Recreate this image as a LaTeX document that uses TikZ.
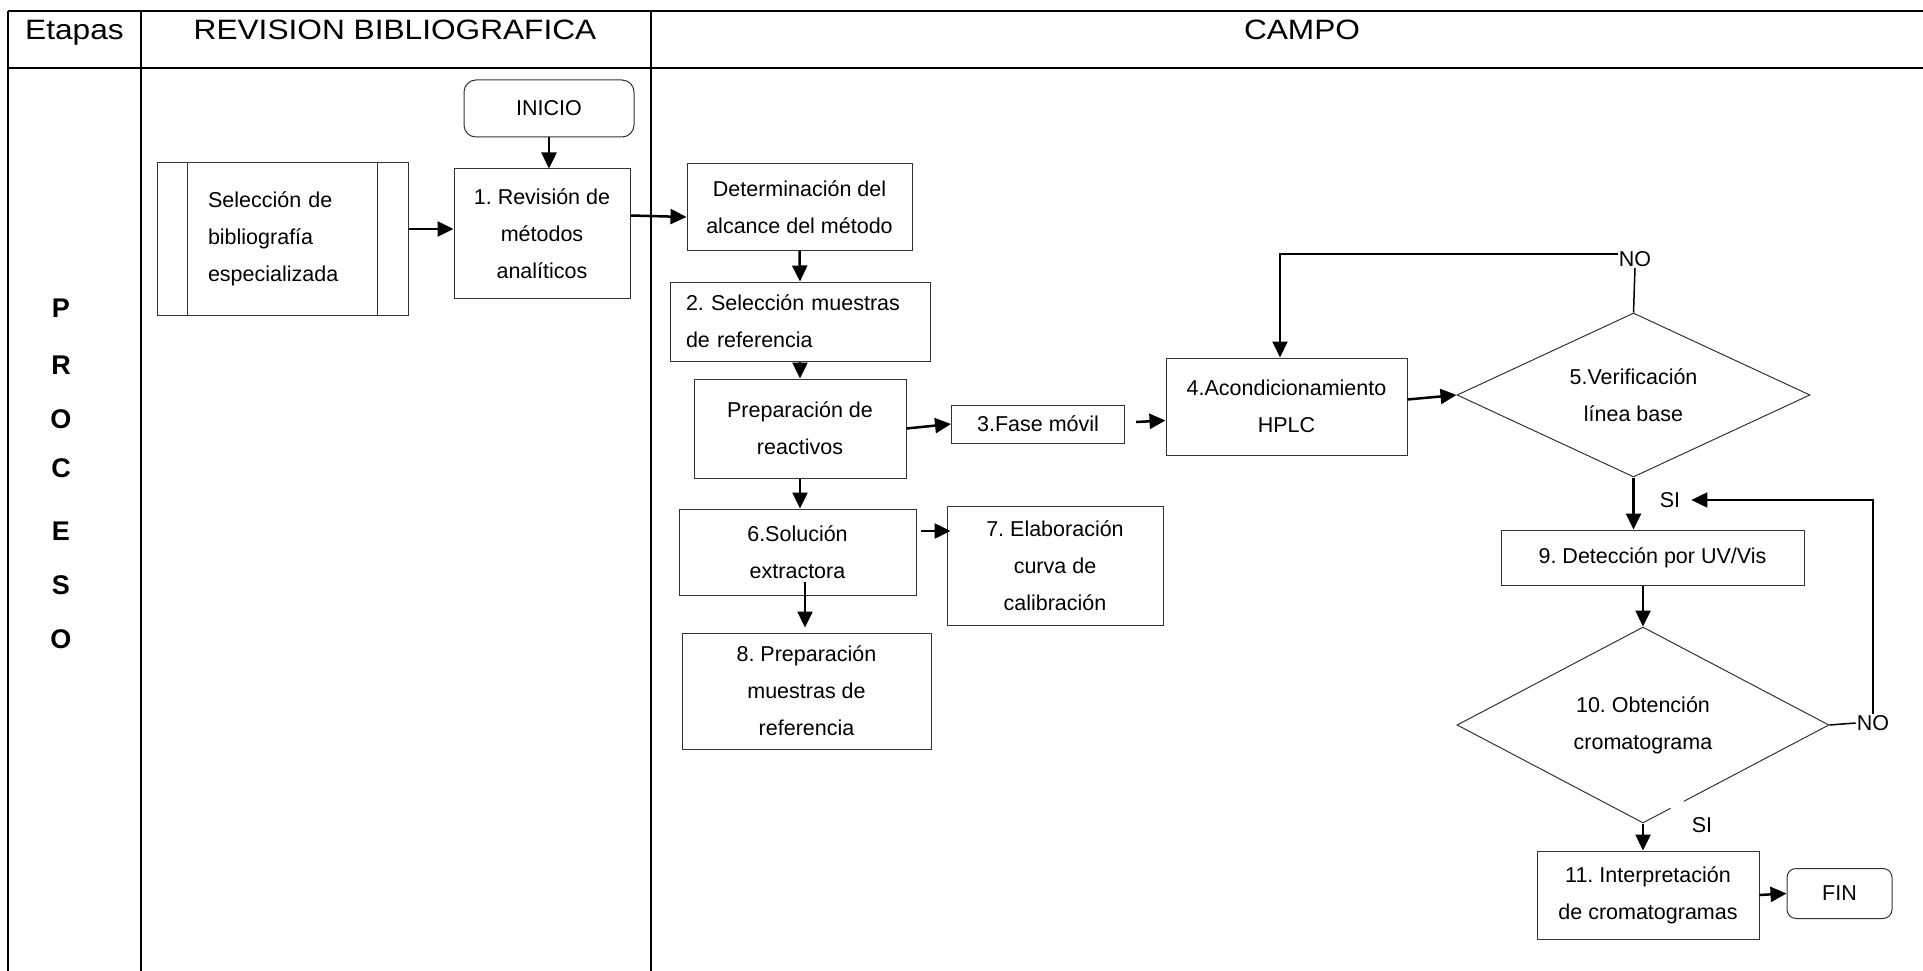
\documentclass[tikz,border=0pt]{standalone}
\usepackage{fontspec}
\setmainfont{Liberation Sans}
\newfontfamily\stretchfam{Liberation Sans}[FakeStretch=1.13]
\usetikzlibrary{shapes.geometric,arrows.meta,calc}
\frenchspacing
\newcommand{\flowfont}{\fontsize{21.5pt}{37pt}\selectfont}
\newcommand{\etapafont}{\stretchfam\fontsize{28pt}{32pt}\selectfont}
\newcommand{\procfont}{\fontsize{27pt}{30pt}\selectfont\bfseries}

\begin{document}
\begin{tikzpicture}[x=1pt,y=1pt,
    grid/.style={line width=2.5pt},
    box/.style={draw=black!80,line width=1pt,align=center,font=\flowfont},
    dec/.style={diamond,draw=black!80,line width=1pt,align=center,font=\flowfont,inner sep=0pt},
    lbl/.style={font=\flowfont,inner sep=1pt},
    arr/.style={line width=2.5pt,-{Triangle[length=16pt,width=15pt]}}]
    \useasboundingbox (0,0) rectangle (1923,-971);
    % table
    \draw[grid] (8,-11) -- (1923,-11);
    \draw[grid] (8,-68) -- (1923,-68);
    \draw[grid] (8,-11) -- (8,-971);
    \draw[grid] (141,-11) -- (141,-971);
    \draw[grid] (651,-11) -- (651,-971);
    \node[font=\etapafont,anchor=base] (etapas) at (74.5,-39.5) {Etapas};
    \node[font=\etapafont,anchor=base] (revision) at (395,-39.5) {REVISION BIBLIOGRAFICA};
    \node[font=\etapafont,anchor=base] (campo) at (1302,-39.5) {CAMPO};
    \node[font=\procfont] (p1) at (61,-308) {P};
    \node[font=\procfont] (p2) at (61,-365) {R};
    \node[font=\procfont] (p3) at (61,-419) {O};
    \node[font=\procfont] (p4) at (61,-468) {C};
    \node[font=\procfont] (p5) at (61,-531) {E};
    \node[font=\procfont] (p6) at (61,-585) {S};
    \node[font=\procfont] (p7) at (61,-639) {O};
    % revision bibliografica
    \node[box,minimum width=251pt,minimum height=152pt,text width=149pt,inner xsep=51pt,align=left] (biblio) at (282.5,-239) {Selección de\\bibliografía\\especializada};
    \draw[draw=black!80,line width=1pt] ([xshift=31pt]biblio.north west) -- ([xshift=31pt]biblio.south west);
    \draw[draw=black!80,line width=1pt] ([xshift=-31pt]biblio.north east) -- ([xshift=-31pt]biblio.south east);
    \node[box,rounded corners=12pt,minimum width=170pt,minimum height=57pt] (ini) at (549,-108.5) {INICIO};
    \node[box,minimum width=176pt,minimum height=129pt] (b1) at (542,-233.5) {1. Revisión de\\métodos\\analíticos};
    % campo
    \node[box,minimum width=225pt,minimum height=86pt] (alc) at (799.5,-207) {Determinación del\\alcance del método};
    \node[box,minimum width=260pt,minimum height=79pt,text width=228pt,inner xsep=16pt,align=left] (b2) at (800,-321.5) {2. Selección muestras\\de referencia};
    \node[box,minimum width=212pt,minimum height=99pt] (reac) at (800,-428.5) {Preparación de\\reactivos};
    \node[box,minimum width=173pt,minimum height=38pt] (b3) at (1038,-424) {3.Fase móvil};
    \node[box,minimum width=241pt,minimum height=97pt] (b4) at (1286.5,-406.5) {4.Acondicionamiento\\HPLC};
    \node[dec,aspect=2.15,minimum width=353pt,minimum height=164pt] (b5) at (1633.5,-395) {5.Verificación\\línea base};
    \node[box,minimum width=303pt,minimum height=55pt] (b9) at (1652.5,-557.5) {9. Detección por UV/Vis};
    \node[dec,aspect=1.9,minimum width=372pt,minimum height=196pt] (b10) at (1643,-725) {10. Obtención\\cromatograma};
    \node[box,minimum width=222pt,minimum height=88pt] (b11) at (1648,-895) {11. Interpretación\\de cromatogramas};
    \node[box,rounded corners=9pt,minimum width=105pt,minimum height=50pt] (fin) at (1839.5,-893.5) {FIN};
    \node[box,minimum width=237pt,minimum height=86pt] (b6) at (797.5,-552) {6.Solución\\extractora};
    \node[box,minimum width=216pt,minimum height=119pt] (b7) at (1055,-565.5) {7. Elaboración\\curva de\\calibración};
    \node[box,minimum width=249pt,minimum height=116pt] (b8) at (806.5,-691) {8. Preparación\\muestras de\\referencia};
    \node[lbl] (no1) at (1635,-259) {NO};
    \node[lbl] (si1) at (1670,-500) {SI};
    \node[lbl] (no2) at (1873,-723) {NO};
    \node[lbl] (si2) at (1702,-825) {SI};
    \coordinate (c1) at (1280,-254);
    \coordinate (c2) at (805,-582);
    % arrows
    \draw[arr] (ini.south) -- (ini.south |- b1.north);
    \draw[arr] ([yshift=10pt]biblio.east) -- ([yshift=10pt]biblio.east -| b1.west);
    \draw[arr] ([yshift=18pt]b1.east) -- ([yshift=-10pt]alc.west);
    \draw[arr] (alc.south) -- (b2.north);
    \draw[arr] (b2.south) -- (reac.north);
    \draw[arr] (reac.east) -- (b3.west);
    \draw[arr] ([xshift=11pt,yshift=2pt]b3.east) -- ([yshift=-14pt]b4.west);
    \draw[arr] ([yshift=7pt]b4.east) -- (b5.west);
    \draw[line width=1.5pt] (b5.north) -- (no1.south);
    \draw[arr,line width=2pt] (no1.west |- c1) -- (c1) -- (c1 |- b4.north);
    \draw[arr] (b5.south) -- (b5.south |- b9.north);
    \draw[arr] (b10.north |- b9.south) -- (b10.north);
    \draw[line width=1.5pt] (b10.east) -- (no2.west);
    \draw[arr,line width=2pt] (no2.north) |- ([xshift=10pt]si1.east);
    \draw[white,line width=3pt] ($(b10.south)!0.15!(b10.east)$) -- ($(b10.south)!0.22!(b10.east)$);
    \draw[arr] (b10.south) -- (b10.south |- b11.north);
    \draw[arr] (b11.east) -- (fin.west);
    \draw[arr] (reac.south) -- (reac.south |- b6.north);
    \draw[arr] ([xshift=4pt,yshift=21pt]b6.east) -- ([xshift=4pt,yshift=21pt]b6.east -| b7.west);
    \draw[arr,shorten >=5pt] (c2) -- (c2 |- b8.north);
\end{tikzpicture}
\end{document}
